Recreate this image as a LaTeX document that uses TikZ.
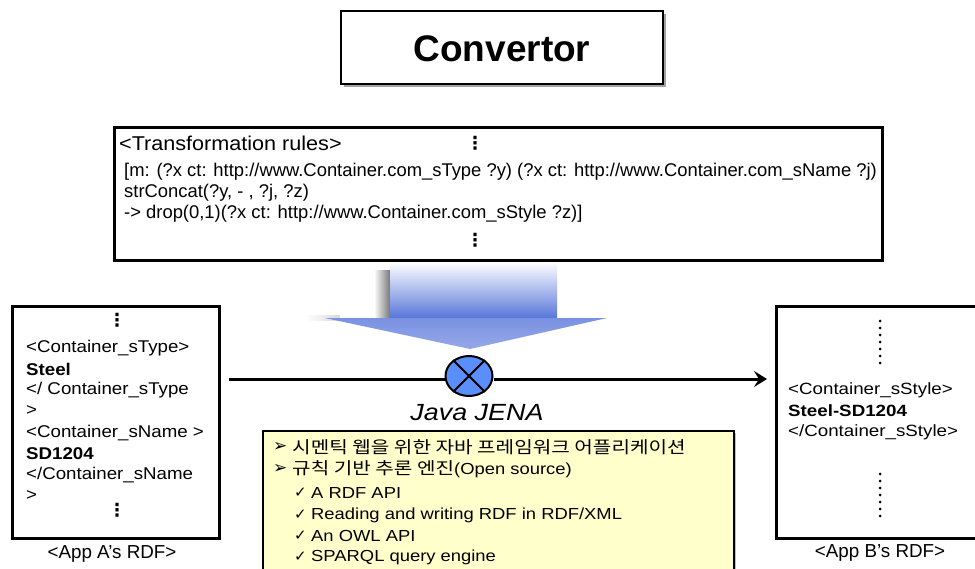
\documentclass[tikz,border=0pt]{standalone}
\usepackage{fontspec}
\setmainfont{Liberation Sans}
\newfontfamily\kofont[FakeStretch=1.2]{Noto Sans CJK KR}
\newfontfamily\symfont{DejaVu Sans}
\newfontfamily\midfont[FakeStretch=1.08]{Liberation Sans}
\newfontfamily\leftfont[FakeStretch=1.1]{Liberation Sans}
\newfontfamily\widefont[FakeStretch=1.15]{Liberation Sans}
\usetikzlibrary{shadows,arrows.meta,shapes.geometric}
\definecolor{jenablue}{RGB}{90,142,250}
\definecolor{arrblue}{RGB}{88,118,218}
\definecolor{arrlight}{RGB}{150,168,232}
\definecolor{notey}{RGB}{255,255,204}
\begin{document}
\begin{tikzpicture}[x=1pt,y=-1pt,
  thickbox/.style={draw=black,line width=3pt,fill=white,inner sep=0pt},
  txt/.style={anchor=west,inner sep=0pt},
  lbl/.style={inner sep=0pt,font=\fontsize{18.8}{22}\selectfont},
  vdot/.style={inner sep=0pt,font=\symfont\bfseries\fontsize{18}{20}\selectfont},
  bul/.style={txt,font=\symfont\fontsize{17}{19}\selectfont},
  chk/.style={txt,font=\symfont\fontsize{15}{17}\selectfont}]
\useasboundingbox (0,0) rectangle (975,568);
% Convertor
\node[draw=black,line width=2pt,fill=white,minimum width=322pt,minimum height=73pt,inner sep=0pt,
  drop shadow={shadow xshift=3pt,shadow yshift=-3pt,fill=black!60,opacity=0.6}] (conv) at (502,47) {};
\node[inner sep=0pt,font=\bfseries\fontsize{37}{40}\selectfont] (convt) at (502,49) {Convertor};
% Transformation rules
\node[thickbox,minimum width=768pt,minimum height=133pt] (rules) at (498,194) {};
\node[txt,font=\midfont\fontsize{20}{22}\selectfont] (rt) at (119,143) {<Transformation rules>};
\node[vdot] (rd1) at (475,143) {⋮};
\begin{scope}[every node/.style={txt,font=\fontsize{18.4}{20}\selectfont}]
\node (r1) at (124,172) {[m: (?x ct: http://www.Container.com\_sType ?y) (?x ct: http://www.Container.com\_sName ?j)};
\node (r2) at (124,193) {strConcat(?y, - , ?j, ?z)};
\node (r3) at (124,214) {-> drop(0,1)(?x ct: http://www.Container.com\_sStyle ?z)]};
\end{scope}
\node[vdot] (rd2) at (475,240) {⋮};
% Blue arrow
\shade[left color=white,right color=black!60] (374,270) rectangle (392,318);
\shade[left color=white,right color=black!15] (305,315) rectangle (340,320);
\shade[top color=white,middle color=arrblue!85,bottom color=arrblue] (390,262) rectangle (557,318);
\shade[top color=arrblue!80,bottom color=arrlight] (325,318) -- (607,318) -- (470,349) -- cycle;
% Left box
\node[thickbox,minimum width=207pt,minimum height=232pt] (A) at (116,422) {};
\node[vdot] (ad1) at (117,320) {⋮};
\begin{scope}[every node/.style={txt,font=\leftfont\fontsize{17}{20}\selectfont}]
\node (a1) at (26,348) {<Container\_sType>};
\node[font=\leftfont\bfseries\fontsize{17}{20}\selectfont] (a2) at (26,369) {Steel};
\node (a3) at (26,390) {</ Container\_sType};
\node (a4) at (26,411) {>};
\node (a5) at (26,433) {<Container\_sName >};
\node[font=\leftfont\bfseries\fontsize{17}{20}\selectfont] (a6) at (26,454) {SD1204};
\node (a7) at (26,475) {</Container\_sName};
\node (a8) at (26,496) {>};
\end{scope}
\node[vdot] (ad2) at (117,510) {⋮};
\node[lbl] (albl) at (112,554) {<App A’s RDF>};
% Right box
\node[thickbox,minimum width=210pt,minimum height=232pt] (B) at (881,422) {};
\draw[line width=3pt,line cap=round,dash pattern=on 0pt off 7pt] (880,321) -- (880,369);
\draw[line width=3pt,line cap=round,dash pattern=on 0pt off 7pt] (880,474) -- (880,522);
\begin{scope}[every node/.style={txt,font=\widefont\fontsize{16.3}{18}\selectfont}]
\node (b1) at (788,390) {<Container\_sStyle>};
\node[font=\widefont\bfseries\fontsize{16.3}{18}\selectfont] (b2) at (788,411) {Steel-SD1204};
\node (b3) at (788,432) {</Container\_sStyle>};
\end{scope}
\node[lbl] (blbl) at (880,553) {<App B’s RDF>};
% Main connector
\coordinate (s) at (229,379);
\coordinate (e) at (767,379);
\node[ellipse,draw=black,line width=2pt,fill=jenablue,minimum width=47pt,minimum height=40pt,inner sep=0pt] (jena) at (469,376) {};
\draw[line width=2pt] (jena.135) -- (jena.-45);
\draw[line width=2pt] (jena.45) -- (jena.-135);
\draw[line width=3pt] (s) -- (s -| jena.west);
\draw[line width=3pt,-{Stealth[length=13pt,width=16pt,inset=5pt]}] (e -| jena.east) -- (e);
\node[inner sep=0pt,font=\widefont\itshape\fontsize{23.4}{26}\selectfont] (jt) at (477,413) {Java JENA};
% Yellow box
\node[draw=black,line width=2pt,fill=notey,minimum width=471pt,minimum height=150pt,inner sep=0pt,anchor=north west,
  drop shadow={shadow xshift=2pt,shadow yshift=-2pt,fill=black!50,opacity=0.5}] (Y) at (262,430) {};
\begin{scope}[every node/.style={txt,font=\widefont\fontsize{16}{19}\selectfont}]
\node[bul] (y1b) at (273,447) {➢};
\node[font=\kofont\fontsize{16.8}{19}\selectfont] (y1) at (292,447) {시멘틱 웹을 위한 자바 프레임워크 어플리케이션};
\node[bul] (y2b) at (273,469) {➢};
\node (y2) at (292,469) {{\kofont\fontsize{16.8}{19}\selectfont 규칙 기반 추론 엔진}(Open source)};
\node[chk] (y3b) at (294,493) {✓};
\node (y3) at (311,493) {A RDF API};
\node[chk] (y4b) at (294,515) {✓};
\node (y4) at (311,515) {Reading and writing RDF in RDF/XML};
\node[chk] (y5b) at (294,536) {✓};
\node (y5) at (311,536) {An OWL API};
\node[chk] (y6b) at (294,557) {✓};
\node (y6) at (311,557) {SPARQL query engine};
\end{scope}
\end{tikzpicture}
\end{document}
